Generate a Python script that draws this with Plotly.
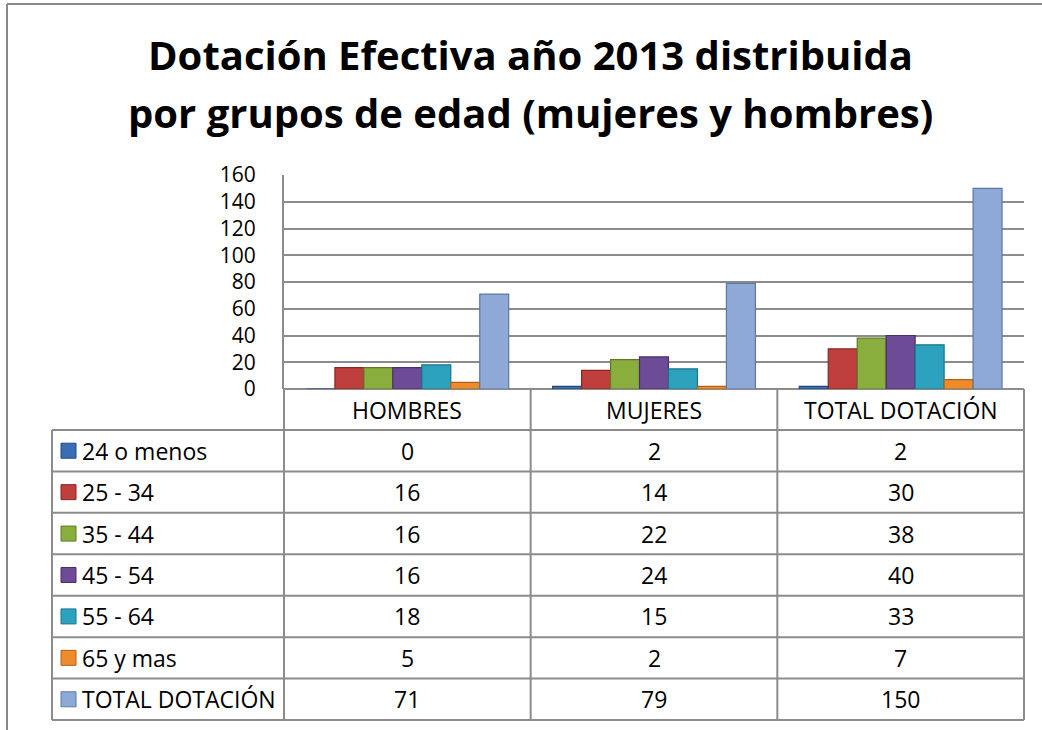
import plotly.graph_objects as go

categories = ["HOMBRES", "MUJERES", "TOTAL DOTACIÓN"]
series_names = ["24 o menos", "25 - 34", "35 - 44", "45 - 54", "55 - 64", "65 y mas", "TOTAL DOTACIÓN"]
values = {
    "24 o menos": [0, 2, 2],
    "25 - 34": [16, 14, 30],
    "35 - 44": [16, 22, 38],
    "45 - 54": [16, 24, 40],
    "55 - 64": [18, 15, 33],
    "65 y mas": [5, 2, 7],
    "TOTAL DOTACIÓN": [71, 79, 150],
}
y_ticks = [0, 20, 40, 60, 80, 100, 120, 140, 160]
title_lines = ["Dotación Efectiva año 2013 distribuida", "por grupos de edad (mujeres y hombres)"]

fill_colors = ["#3A6DB3", "#BE3F3B", "#8AAE3E", "#6E4B96", "#2DA2BF", "#EE8C2C", "#8EA9D5"]
edge_colors = ["#1F4A82", "#8A2522", "#5F7A25", "#4A2F6C", "#1A7389", "#B0621A", "#5B78A6"]

W, H = 1042, 730
FONT = "Open Sans"
GRID = "#8C8C8C"


def px(x):
    return x / W


def py(y):
    return 1 - y / H


plot_l, plot_r, plot_t, plot_b = 284, 1024, 175, 389
tab_l, tab_top_rows, tab_b = 52, 430, 720
n_rows = len(series_names)
row_h = (tab_b - tab_top_rows) / n_rows
col_w = (plot_r - plot_l) / len(categories)

fig = go.Figure()
for i, name in enumerate(series_names):
    fig.add_trace(go.Bar(
        x=categories, y=values[name], name=name,
        marker=dict(color=fill_colors[i], line=dict(color=edge_colors[i], width=1.2)),
        showlegend=False,
    ))

shapes = []
annotations = []

# outer frame (top and left)
shapes.append(dict(type="line", xref="paper", yref="paper", x0=px(7), x1=px(1042), y0=py(4), y1=py(4),
                   line=dict(color="#8A8A8A", width=2)))
shapes.append(dict(type="line", xref="paper", yref="paper", x0=px(7), x1=px(7), y0=py(4), y1=py(730),
                   line=dict(color="#8A8A8A", width=2)))

line_style = dict(color=GRID, width=2)
# table horizontal lines
for r in range(n_rows + 1):
    yy = tab_top_rows + r * row_h
    shapes.append(dict(type="line", xref="paper", yref="paper", x0=px(tab_l), x1=px(plot_r),
                       y0=py(yy), y1=py(yy), line=line_style))
# table vertical lines
shapes.append(dict(type="line", xref="paper", yref="paper", x0=px(tab_l), x1=px(tab_l),
                   y0=py(tab_top_rows), y1=py(tab_b), line=line_style))
shapes.append(dict(type="line", xref="paper", yref="paper", x0=px(plot_l), x1=px(plot_l),
                   y0=py(plot_b), y1=py(tab_b), line=line_style))
for c in range(1, len(categories) + 1):
    xx = plot_l + c * col_w
    shapes.append(dict(type="line", xref="paper", yref="paper", x0=px(xx), x1=px(xx),
                       y0=py(plot_b), y1=py(tab_b), line=line_style))

TAB_FONT = dict(family=FONT, size=23, color="black")

# header labels
for c, cat in enumerate(categories):
    annotations.append(dict(xref="paper", yref="paper", x=px(plot_l + (c + 0.5) * col_w),
                            y=py((plot_b + tab_top_rows) / 2), text=cat, showarrow=False,
                            font=TAB_FONT, xanchor="center", yanchor="middle"))

# rows
for r, name in enumerate(series_names):
    yc = tab_top_rows + (r + 0.5) * row_h
    shapes.append(dict(type="rect", xref="paper", yref="paper", x0=px(61), x1=px(76),
                       y0=py(yc - 7.5), y1=py(yc + 7.5), fillcolor=fill_colors[r],
                       line=dict(color=edge_colors[r], width=1)))
    annotations.append(dict(xref="paper", yref="paper", x=px(80), y=py(yc), text=name,
                            showarrow=False, font=TAB_FONT, xanchor="left", yanchor="middle"))
    for c in range(len(categories)):
        annotations.append(dict(xref="paper", yref="paper", x=px(plot_l + (c + 0.5) * col_w),
                                y=py(yc), text=str(values[name][c]), showarrow=False,
                                font=TAB_FONT, xanchor="center", yanchor="middle"))

# title (two lines, Excel-like wide spacing)
for k, (line_txt, yc) in enumerate(zip(title_lines, [55, 112])):
    annotations.append(dict(xref="paper", yref="paper", x=px(530), y=py(yc),
                            text="<b>" + line_txt + "</b>", showarrow=False,
                            font=dict(family=FONT, size=40, color="black"),
                            xanchor="center", yanchor="middle"))

fig.update_layout(
    template="plotly",
    width=W, height=H,
    margin=dict(l=0, r=0, t=0, b=0, pad=0),
    paper_bgcolor="white", plot_bgcolor="white",
    barmode="group", bargap=0.178, bargroupgap=0,
    shapes=shapes, annotations=annotations,
    xaxis=dict(domain=[px(plot_l), px(plot_r)], showticklabels=False, showgrid=False,
               zeroline=False, showline=False, fixedrange=True, automargin=False),
    yaxis=dict(domain=[py(plot_b), py(plot_t)], range=[0, 160], tickvals=y_ticks,
               showgrid=True, gridcolor=GRID, gridwidth=2, zeroline=True, zerolinecolor=GRID,
               zerolinewidth=2, showline=True, linecolor=GRID, linewidth=2,
               ticks="", ticklabelstandoff=22, automargin=False, fixedrange=True,
               tickfont=dict(family=FONT, size=21, color="black")),
)

fig.write_html("out.html", config={"displayModeBar": False},
               post_script="document.body.style.margin='0px';document.body.style.overflow='hidden';")
